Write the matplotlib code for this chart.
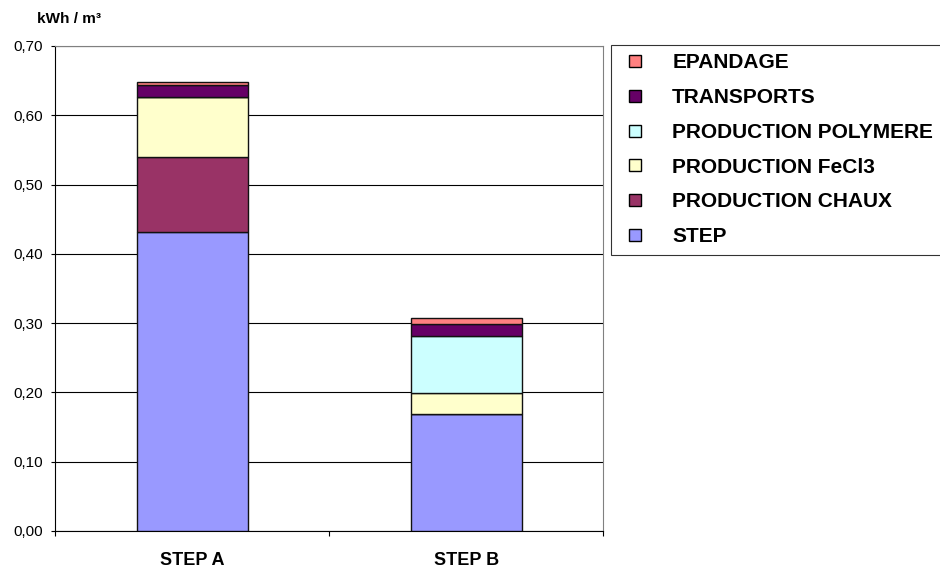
import matplotlib
matplotlib.use("Agg")
import matplotlib.pyplot as plt
from matplotlib.lines import Line2D
import numpy as np

plt.rcParams['font.family'] = ['Liberation Sans', 'DejaVu Sans']

categories = ["STEP A", "STEP B"]
series = ["STEP", "PRODUCTION CHAUX", "PRODUCTION FeCl3", "PRODUCTION POLYMERE", "TRANSPORTS", "EPANDAGE"]
step = [0.432, 0.169]
chaux = [0.108, 0.0]
fecl3 = [0.087, 0.030]
polymere = [0.0, 0.083]
transports = [0.017, 0.017]
epandage = [0.004, 0.009]
colors = ["#9999FF", "#993366", "#FFFFCC", "#CCFFFF", "#660066", "#FF8080"]
yticks = [0.0, 0.1, 0.2, 0.3, 0.4, 0.5, 0.6, 0.7]

fig = plt.figure(figsize=(9.4, 5.67), dpi=100)
ax = fig.add_axes([0.0585, 0.0635, 0.5835, 0.8554])

x = np.arange(len(categories))
bottom = np.zeros(len(categories))
for name, vals, col in zip(series, [step, chaux, fecl3, polymere, transports, epandage], colors):
    ax.bar(x, vals, width=0.405, bottom=bottom, color=col, edgecolor='#111111',
           linewidth=1.0, label=name, zorder=3)
    bottom += np.array(vals)

ax.set_xlim(-0.5, 1.5)
ax.set_ylim(0, 0.70)
ax.set_yticks(yticks)
ax.set_yticklabels([("%.2f" % v).replace(".", ",") for v in yticks], fontsize=11)
ax.yaxis.grid(True, color='black', linewidth=0.8, zorder=0)
ax.set_xticks([-0.5, 0.5, 1.5])
ax.set_xticklabels([])
ax.set_xticks(x, minor=True)
ax.set_xticklabels(categories, minor=True, fontsize=13, fontweight='bold')
ax.tick_params(axis='x', which='minor', length=0, pad=15)
ax.tick_params(axis='x', which='major', length=3.5, direction='out', color='black')
ax.tick_params(axis='y', length=3.2, direction='out', pad=5.5)
ax.spines['top'].set_color('#808080')
ax.spines['right'].set_color('#808080')

fig.text(0.039, 0.966, "kWh / m³", fontsize=11, fontweight='bold', va='center')

handles = [Line2D([], [], linestyle='none', marker='s', markersize=9.3,
                  markerfacecolor=c, markeredgecolor='black', markeredgewidth=1.0)
           for c in colors]
leg = fig.legend(handles[::-1], series[::-1], loc='upper left', bbox_to_anchor=(0.650, 0.921),
                 frameon=True, fancybox=False, edgecolor='black',
                 prop={'weight': 'bold', 'size': 15}, handlelength=1.54,
                 handletextpad=1.0, labelspacing=0.76, borderpad=0.4, borderaxespad=0)
leg.get_frame().set_linewidth(0.8)

fig.savefig("out.png", dpi=100)
